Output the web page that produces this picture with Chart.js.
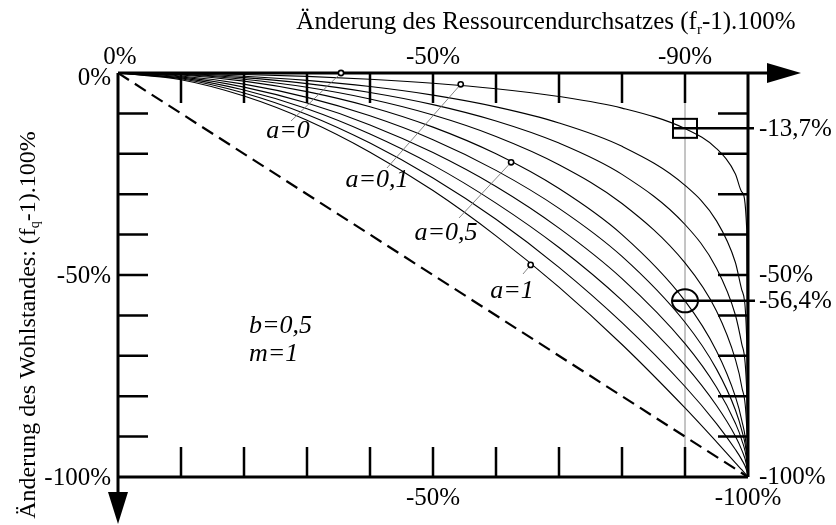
<!DOCTYPE html>
<html><head><meta charset="utf-8">
<script src="https://cdn.jsdelivr.net/npm/chart.js@4.4.1/dist/chart.umd.min.js"></script>
<style>html,body{margin:0;padding:0;background:#fff}canvas{display:block}</style>
</head><body>
<canvas id="c" width="836" height="525"></canvas>
<script>
// x: Änderung des Ressourcendurchsatzes in %
const resourceChange = [0,-10,-20,-30,-40,-50,-60,-70,-80,-90,-95,-98,-99,-99.8,-100];
// y: Änderung des Wohlstandes in %, one curve per a
const wohlA01 = [0,-0.09,-0.36,-0.84,-1.54,-2.53,-3.89,-5.82,-8.69,-13.75,-18.7,-25.0,-29.4,-38.8,-100];
const wohlA02 = [0,-0.2,-0.8,-1.83,-3.36,-5.48,-8.38,-12.36,-18.15,-27.8,-36.6,-46.9,-53.6,-66.1,-100];
const wohlA03 = [0,-0.3,-1.15,-2.63,-4.81,-7.82,-11.87,-17.35,-25.1,-37.5,-48.3,-59.9,-67.0,-79.0,-100];
const wohlA04 = [0,-0.38,-1.55,-3.54,-6.44,-10.4,-15.7,-22.7,-32.3,-47.0,-58.9,-70.9,-77.6,-87.9,-100];
const wohlA05 = [0,-0.5,-2.02,-4.61,-8.35,-13.4,-20.0,-28.6,-40.0,-56.4,-68.8,-80.1,-85.9,-93.7,-100];
const wohlA06 = [0,-0.73,-2.76,-6.03,-10.6,-16.5,-24.1,-33.5,-45.4,-61.7,-73.3,-83.4,-88.4,-94.9,-100];
const wohlA07 = [0,-0.96,-3.49,-7.45,-12.85,-19.7,-28.1,-38.4,-50.9,-67.0,-77.8,-86.7,-90.8,-96.1,-100];
const wohlA08 = [0,-1.2,-4.23,-8.86,-15.1,-22.8,-32.2,-43.2,-56.3,-72.3,-82.3,-89.9,-93.3,-97.3,-100];
const wohlA09 = [0,-1.43,-4.96,-10.27,-17.35,-26.0,-36.2,-48.1,-61.8,-77.6,-86.8,-93.2,-95.7,-98.4,-100];
const wohlA10 = [0,-1.66,-5.7,-11.7,-19.6,-29.1,-40.3,-53.0,-67.2,-82.9,-91.3,-96.5,-98.2,-99.6,-100];
// reference diagonal (dashed)
const diagonalX = [0,-100];
const diagonalY = [0,-100];
// axis ticks and labels
const tickSteps = [-10,-20,-30,-40,-50,-60,-70,-80,-90];
const topLabelValues = [0,-50,-90];
const topLabels = ['0%','-50%','-90%'];
const bottomLabelValues = [-50,-100];
const bottomLabels = ['-50%','-100%'];
const leftLabelValues = [0,-50,-100];
const leftLabels = ['0%','-50%','-100%'];
const rightLabelValues = [-13.7,-50,-56.4,-100];
const rightLabels = ['-13,7%','-50%','-56,4%','-100%'];
// highlighted points at -90 % resource throughput
const markX = -90;
const markSquareY = -13.7;
const markEllipseY = -56.4;
// curve annotation points (label pointer targets)
const pointerNames = ['a=0','a=0,1','a=0,5','a=1'];
const pointerX = [-35.4,-54.4,-62.4,-65.5];
const pointerY = [0,-2.8,-22.1,-47.5];

const curves = [wohlA01,wohlA02,wohlA03,wohlA04,wohlA05,wohlA06,wohlA07,wohlA08,wohlA09,wohlA10];
const toPts = (xs, ys) => xs.map((x,i)=>({x:x, y:ys[i]}));

const datasets = curves.map(ys => ({
  data: toPts(resourceChange, ys),
  borderColor:'#000', borderWidth:1.1, pointRadius:0,
  cubicInterpolationMode:'monotone', fill:false
}));
datasets.push({
  data: toPts(diagonalX, diagonalY),
  borderColor:'#000', borderWidth:2.2, pointRadius:0, borderDash:[13,7], fill:false
});

const SERIF = '"Liberation Serif","Times New Roman",serif';

function drawSubText(ctx, parts, x, y, align, size) {
  let total = 0;
  const widths = parts.map(p => {
    ctx.font = (p[1] ? Math.round(size*0.6) : size) + 'px ' + SERIF;
    const w = ctx.measureText(p[0]).width; total += w; return w;
  });
  let cx = align === 'center' ? x - total/2 : (align === 'right' ? x - total : x);
  ctx.textAlign = 'left';
  parts.forEach((p,i) => {
    ctx.font = (p[1] ? Math.round(size*0.6) : size) + 'px ' + SERIF;
    ctx.textBaseline = 'alphabetic';
    ctx.fillText(p[0], cx, p[1] ? y + size*0.18 : y);
    cx += widths[i];
  });
}

const decor = {
  id:'decor',
  beforeDatasetsDraw(chart) {
    const {ctx, scales:{x, y}} = chart;
    ctx.save();
    ctx.strokeStyle = '#8a8a8a'; ctx.lineWidth = 1;
    ctx.beginPath();
    ctx.moveTo(x.getPixelForValue(markX), y.getPixelForValue(0));
    ctx.lineTo(x.getPixelForValue(markX), y.getPixelForValue(-100));
    ctx.stroke();
    ctx.restore();
  },
  afterDatasetsDraw(chart) {
    const {ctx, scales:{x, y}} = chart;
    const L = x.getPixelForValue(0), R = x.getPixelForValue(-100);
    const T = y.getPixelForValue(0), B = y.getPixelForValue(-100);
    ctx.save();
    ctx.fillStyle = '#000'; ctx.strokeStyle = '#000';
    // frame / axes
    ctx.lineWidth = 3;
    ctx.beginPath();
    ctx.moveTo(L, T); ctx.lineTo(772, T);
    ctx.moveTo(L, T); ctx.lineTo(L, 497);
    ctx.moveTo(L, B); ctx.lineTo(R, B);
    ctx.moveTo(R, T); ctx.lineTo(R, B);
    ctx.stroke();
    // arrows
    ctx.beginPath();
    ctx.moveTo(801, T); ctx.lineTo(767, T-10); ctx.lineTo(767, T+10); ctx.closePath(); ctx.fill();
    ctx.beginPath();
    ctx.moveTo(L, 524); ctx.lineTo(L-10, 492); ctx.lineTo(L+10, 492); ctx.closePath(); ctx.fill();
    // ticks
    ctx.lineWidth = 2.5;
    ctx.beginPath();
    tickSteps.forEach(v => {
      const px = x.getPixelForValue(v), py = y.getPixelForValue(v);
      ctx.moveTo(px, T); ctx.lineTo(px, T+30);
      ctx.moveTo(px, B); ctx.lineTo(px, B-30);
      ctx.moveTo(L, py); ctx.lineTo(L+30, py);
      ctx.moveTo(R, py); ctx.lineTo(R-30, py);
    });
    ctx.stroke();
    // highlighted square and ellipse
    const mx = x.getPixelForValue(markX);
    const sy = y.getPixelForValue(markSquareY), ey = y.getPixelForValue(markEllipseY);
    ctx.lineWidth = 2;
    ctx.strokeRect(mx-12, sy-9.5, 24, 19);
    ctx.beginPath(); ctx.ellipse(mx, ey, 13, 11.5, 0, 0, Math.PI*2); ctx.stroke();
    ctx.lineWidth = 2.5;
    ctx.beginPath();
    ctx.moveTo(mx-12, sy); ctx.lineTo(R+6, sy);
    ctx.moveTo(mx-13, ey); ctx.lineTo(R+7, ey);
    ctx.stroke();
    // pointer lines and small circles
    const labelAnchors = [[291,121],[387,168],[459,218],[523,274]];
    ctx.strokeStyle = '#777'; ctx.lineWidth = 0.9;
    pointerX.forEach((v,i) => {
      ctx.beginPath();
      ctx.moveTo(labelAnchors[i][0], labelAnchors[i][1]);
      ctx.lineTo(x.getPixelForValue(v), y.getPixelForValue(pointerY[i]));
      ctx.stroke();
    });
    ctx.strokeStyle = '#000'; ctx.lineWidth = 1.6;
    pointerX.forEach((v,i) => {
      ctx.beginPath();
      ctx.arc(x.getPixelForValue(v), y.getPixelForValue(pointerY[i]), 2.6, 0, Math.PI*2);
      ctx.fillStyle = '#fff'; ctx.fill(); ctx.stroke();
    });
    ctx.fillStyle = '#000';
    // tick labels
    const FS = 25;
    ctx.font = FS + 'px ' + SERIF;
    ctx.textBaseline = 'middle';
    ctx.textAlign = 'center';
    topLabelValues.forEach((v,i) => ctx.fillText(topLabels[i], x.getPixelForValue(v) + (v===0 ? 2 : 0), T-16));
    bottomLabelValues.forEach((v,i) => ctx.fillText(bottomLabels[i], x.getPixelForValue(v), B+21));
    ctx.textAlign = 'right';
    leftLabelValues.forEach((v,i) => ctx.fillText(leftLabels[i], L-7, y.getPixelForValue(v) + (v===0 ? 5 : 1)));
    ctx.textAlign = 'left';
    rightLabelValues.forEach((v,i) => {
      let dy = 1;
      if (v === -50) dy = 0; if (v === -100) dy = 0;
      ctx.fillText(rightLabels[i], R+11, y.getPixelForValue(v) + dy);
    });
    // italic annotations
    ctx.font = 'italic 26px ' + SERIF;
    ctx.textAlign = 'center';
    const labelPos = [[288,131],[377,180],[446,233],[512,291]];
    pointerNames.forEach((n,i) => ctx.fillText(n, labelPos[i][0], labelPos[i][1]));
    ctx.textAlign = 'left';
    ctx.fillText('b=0,5', 249, 326);
    ctx.fillText('m=1', 249, 354);
    // axis titles
    drawSubText(ctx, [['Änderung des Ressourcendurchsatzes (f',false],['r',true],['-1).100%',false]], 546, 29, 'center', 25);
    ctx.save();
    ctx.translate(35, 325);
    ctx.rotate(-Math.PI/2);
    drawSubText(ctx, [['Änderung des Wohlstandes: (f',false],['q',true],['-1).100%',false]], 0, 0, 'center', 24);
    ctx.restore();
    ctx.restore();
  }
};

new Chart(document.getElementById('c'), {
  type:'line',
  data:{ datasets: datasets },
  options:{
    responsive:false, animation:false, devicePixelRatio:1,
    layout:{ padding:{ left:118, top:73, right:88, bottom:48 } },
    scales:{
      x:{ type:'linear', min:-100, max:0, reverse:true, display:false },
      y:{ type:'linear', min:-100, max:0, display:false }
    },
    plugins:{ legend:{display:false}, tooltip:{enabled:false} }
  },
  plugins:[decor]
});
</script>
</body></html>
